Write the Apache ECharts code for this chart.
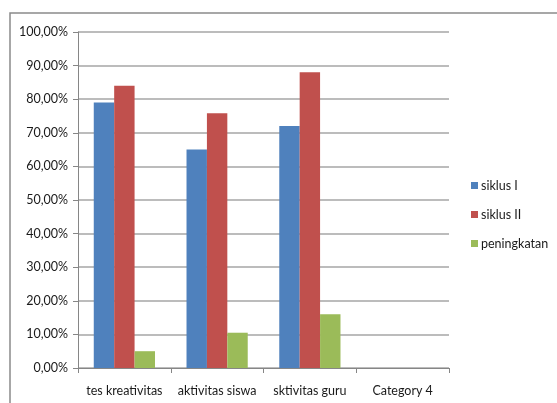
<!DOCTYPE html>
<html>
<head>
<meta charset="utf-8">
<script src="https://cdn.jsdelivr.net/npm/echarts@6/dist/echarts.min.js"></script>
<style>
html,body{margin:0;padding:0;background:#fff;}
#c{width:557px;height:403px;}
</style>
</head>
<body>
<div id="c"></div>
<script>
var categories = ['tes kreativitas', 'aktivitas siswa', 'sktivitas guru', 'Category 4'];
var seriesNames = ['siklus I', 'siklus II', 'peningkatan'];
var siklus1 = [79, 65, 72, null];
var siklus2 = [84, 75.8, 88, null];
var peningkatan = [5, 10.5, 16, null];
var colors = ['#4f81bd', '#c0504d', '#9bbb59'];

var font = 'Lato, "Open Sans", sans-serif';
var chart = echarts.init(document.getElementById('c'), null, {renderer: 'canvas'});
function fmt(v) { return v.toFixed(2).replace('.', ',') + '%'; }
var dataSets = [siklus1, siklus2, peningkatan];
chart.setOption({
  animation: false,
  backgroundColor: '#fff',
  color: colors,
  graphic: [{
    type: 'rect',
    shape: {x: 10, y: 13, width: 700, height: 500},
    style: {fill: 'none', stroke: '#8a8a8a', lineWidth: 1.5},
    silent: true
  }],
  grid: {left: 78, right: 108, top: 32, bottom: 35},
  legend: {
    orient: 'vertical',
    left: 466,
    top: 174,
    itemWidth: 7,
    itemHeight: 7,
    itemGap: 16,
    icon: 'rect',
    textStyle: {fontFamily: font, fontSize: 12.5, color: '#1a1a1a', padding: [0, 0, 0, -2]},
    data: seriesNames
  },
  xAxis: {
    type: 'category',
    data: categories,
    axisLine: {lineStyle: {color: '#868686', width: 1}},
    axisTick: {show: true, length: 5, lineStyle: {color: '#868686'}},
    axisLabel: {fontFamily: font, fontSize: 12.5, color: '#1a1a1a', margin: 16, interval: 0}
  },
  yAxis: {
    type: 'value',
    min: 0, max: 100, interval: 10,
    axisLine: {show: true, lineStyle: {color: '#868686', width: 1}},
    axisTick: {show: true, length: 5, lineStyle: {color: '#868686'}},
    axisLabel: {fontFamily: font, fontSize: 12.5, color: '#1a1a1a', margin: 10, formatter: fmt},
    splitLine: {lineStyle: {color: '#a6a6a6', width: 1.5}}
  },
  series: seriesNames.map(function (n, i) {
    return {
      name: n,
      type: 'bar',
      data: dataSets[i],
      barGap: '0%',
      barCategoryGap: '34%',
      itemStyle: {color: colors[i]}
    };
  })
});
</script>
</body>
</html>
